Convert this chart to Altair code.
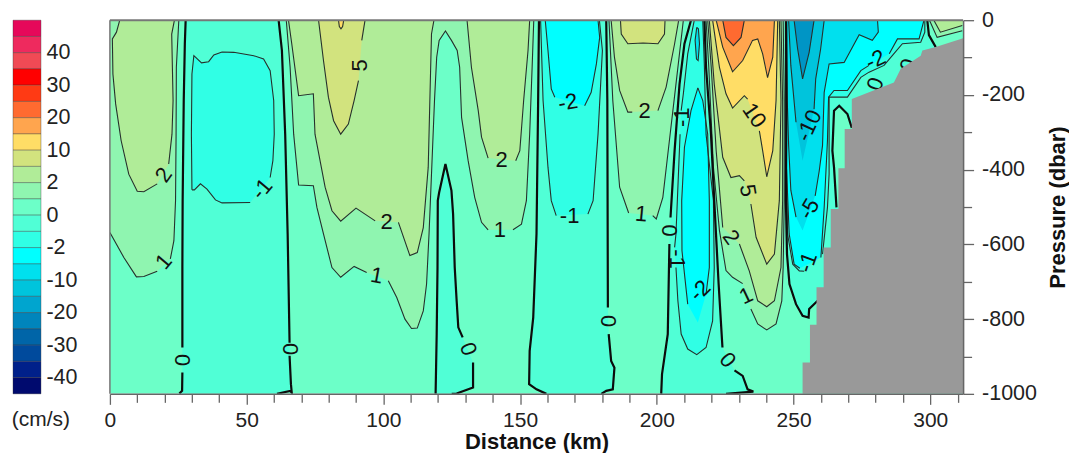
import altair as alt
import pandas as pd

FONT = "Liberation Sans"

# colour bar, top to bottom
BAND_COLORS = ["#E6085A", "#EE2A5E", "#F04A55", "#FF0000", "#FF3A14", "#FF6A30", "#FFA54E", "#FFDD66",
               "#D2E37E", "#B0EC98", "#8FF5B0", "#6CFFC8", "#50FFD6", "#30FFE5", "#00FFFF", "#00E0EE",
               "#00C4DC", "#00A5CF", "#0085BC", "#0065A8", "#004A9C", "#00208A", "#000A6E"]
BAR_TICKS = {2: "40", 4: "30", 6: "20", 8: "10", 10: "2", 12: "0", 14: "-2", 16: "-10", 18: "-20", 20: "-30", 22: "-40"}

C_BG, C_P1, C_P2, C_P5, C_P10, C_P15, C_P20 = "#6CFFC8", "#8FF5B0", "#B0EC98", "#D2E37E", "#FFDD66", "#FFA54E", "#FF6A30"
C_N0, C_N1, C_N2, C_N5, C_N10, C_N15 = "#50FFD6", "#30FFE5", "#00FFFF", "#00E0EE", "#00C4DC", "#0095C5"

def hidden(*pts):
    return ("hidden", list(pts))

# each contour: parts of (km, dbar); a part that is hidden fills but is not stroked
BG = [hidden((0, 0), (312, 0), (312, 1000), (0, 1000))]

A1 = [[(0, 568), (5.1, 635), (9.7, 687), (12.4, 686), (17.3, 672)],
      [(22.1, 639), (23.4, 590), (24.0, 483), (24.2, 305), (24.3, 126), (25.2, 0)], hidden((0, 0))]
A2 = [[(3.6, 0), (2.4, 32), (0.9, 50), (1.1, 144), (2.1, 224), (4.1, 322), (6.9, 412), (10, 458), (12.4, 459), (17.3, 438)],
      [(21.5, 385), (22.7, 305), (23.1, 215), (22.6, 37), (23.6, 0)]]
CE1 = [[(64.5, 0), (65.9, 126), (67.2, 305), (69, 441), (74.4, 443), (75.7, 501), (78.1, 572), (81.2, 662), (84.4, 688),
        (89.3, 659), (93.9, 675)],
       [(101.8, 697), (104.9, 742), (107.9, 800), (110.3, 825), (112.4, 824), (114.6, 778), (115.8, 706), (116.7, 572),
        (117.7, 394), (118.7, 215), (119.5, 99), (120.4, 54), (122.7, 29), (124.9, 54), (127, 81), (127.9, 126), (128.6, 260),
        (131, 376), (133.4, 474), (135.9, 541), (138.3, 561)],
       [(147.4, 561), (150.5, 546), (152.3, 483), (153.5, 305), (154.4, 126), (155, 0)]]
C2 = [[(65.3, 0), (66.5, 63), (69, 202), (74.4, 197), (75, 305), (78.7, 447), (81.2, 510), (84.4, 538), (90, 503), (97, 537)],
      [(105.5, 541), (109.7, 630), (112.4, 622), (114.6, 555), (116.4, 394), (117, 215), (117.6, 37), (118.5, 0)]]
C5 = [[(76.3, 0), (78.1, 108), (79.9, 206), (81.8, 269), (84.4, 305), (87.2, 278), (89.3, 215), (90.9, 162)],
      [(92.1, 54), (93.3, 0)]]
C10 = [[(83.6, 0), (83.9, 17), (84.5, 23), (85.1, 17), (85.5, 0)]]
E2 = [[(130.6, 0), (132.2, 126), (134.7, 242), (135.9, 313), (138.3, 369)],
      [(148.4, 376), (149.9, 349), (151.3, 215), (152.9, 81), (153.5, 0)]]
B0L = [(27.7, 0), (27.4, 63), (27, 215), (26.6, 483), (26.5, 662), (26.5, 876)]
B0 = [B0L, [(26.5, 943), (26.4, 992), (25.4, 999)], hidden((25.4, 1000), (61.1, 1000)),
      [(61.1, 1000), (65.9, 992), (66.5, 997), (66.2, 974), (65.7, 898)], [(65.7, 863), (65, 572), (64.1, 305), (62.9, 81), (61.7, 0)]]
B1 = [[(30, 454), (29.8, 305), (30, 144), (30.7, 95), (33.5, 114), (36.1, 111), (38, 93), (41, 85), (45.3, 86), (52.6, 95),
       (56.2, 104), (58.6, 135), (59.9, 215), (60.1, 305), (59.6, 376), (58.6, 421)],
      [(51.3, 488), (41, 489), (38.6, 481), (35.5, 452), (33.1, 438), (30.9, 454), (30, 454)]]
D0 = [[(119.1, 1000), (119.5, 840), (119.8, 662), (119.9, 483), (120.4, 461), (122.7, 385), (124.9, 456), (125.5, 519),
       (126.1, 662), (126.8, 751), (127.4, 822), (129, 849)],
      [(132.8, 916), (132.8, 983), (126.8, 999), (125, 1000)]]
F0 = [[(156.9, 0), (156.6, 215), (156, 572), (154.8, 796), (153.5, 885), (153.3, 974), (156, 988), (159.6, 1000)],
      hidden((179.7, 1000)),
      [(179.7, 1000), (181.5, 992), (183.9, 988), (184.5, 930), (183.3, 912), (182.4, 840)],
      [(182.1, 769), (181.9, 215), (181.5, 0)]]
F1 = [[(157.5, 0), (158.4, 215), (160.2, 394), (161.4, 483), (163.2, 523)],
      [(174.8, 519), (176.7, 483), (178.5, 305), (180.1, 81), (179, 0)]]
F2 = [[(159.2, 0), (160.2, 81), (161.4, 184), (162.7, 206)],
      [(173.6, 229), (176, 193), (177.9, 117), (179.1, 46), (178.5, 0)]]
G1 = [[(182.5, 0), (183.9, 215), (186.4, 447), (189.7, 516)],
      [(198.5, 523), (199.8, 532), (202.2, 474), (204.6, 322), (207, 171), (209.7, 0)]]
G2 = [[(183.3, 0), (184.5, 99), (186.4, 188), (189.4, 246), (191, 246)],
      [(200.4, 242), (203.4, 179), (206.5, 63), (208, 0)]]
G5 = [[(186.7, 0), (187, 37), (189.4, 63), (195, 61), (200.4, 63), (202.8, 37), (203, 0)]]
H0 = [[(201.6, 1000), (201.9, 947), (204, 840), (204.6, 599)],
      [(205, 528), (206.5, 349), (208.3, 171), (210.1, 63), (212.5, 0)],
      hidden((217.4, 0)),
      [(217.4, 0), (218, 126), (219.8, 305), (221, 483), (222.6, 706), (224, 876)],
      [(228.4, 937), (231.4, 952), (233.2, 988), (235.3, 994), (225.3, 1000)]]
H1 = [[(213.7, 0), (211.3, 90), (209.7, 197), (208.9, 242)],
      [(208.5, 305), (207, 572), (206.5, 608)],
      [(207, 662), (207.7, 751), (208.9, 840), (211.3, 880), (214.6, 895), (218, 876), (220.4, 805), (221, 662), (220.7, 483),
       (218, 305), (217.4, 126), (216.8, 0)]]
H2 = [[(215, 181), (212.5, 242), (210.1, 340), (209.1, 483), (209.2, 617), (211.3, 760)],
      hidden((215, 809)),
      [(218, 733), (219.2, 662), (219.2, 483), (218.6, 305), (216.8, 215), (215, 181)]]
H2T = [[(214.6, 19), (214, 54), (214.5, 104), (215.1, 108), (215.6, 63), (215.2, 23), (214.6, 19)]]
I1 = [[(218, 0), (219, 126), (220.7, 394), (222.9, 563), (225.3, 670), (227.7, 688), (231.4, 705)],
      [(234.4, 773), (236.9, 813), (240.2, 829), (243.6, 813), (245.7, 751), (246.2, 662), (246.6, 483), (246.6, 215), (246.2, 0)]]
I2 = [[(218.6, 0), (219.9, 126), (221.7, 349), (224.1, 555)],
      [(230.2, 599), (233.8, 671), (236.9, 751), (240.2, 767), (243, 751), (245.4, 662), (246, 483), (246, 215), (245.4, 0)]]
I5 = [[(219.2, 0), (221, 171), (224.1, 367), (227.1, 421), (230.2, 416), (232, 430)],
      [(234.4, 492), (236.3, 581), (240.2, 653), (243, 626), (244.8, 483), (245.4, 215), (244.8, 0)]]
I10 = [[(220.4, 0), (222.9, 126), (225.3, 197), (227.7, 235), (232, 202), (233.2, 211)],
       [(237.5, 296), (238.7, 349), (240.2, 419), (242.4, 349), (243.6, 215), (244.2, 0)]]
I15 = [[(221.7, 0), (224.1, 72), (227.7, 138), (231.4, 108), (235, 54), (236.9, 50), (238.7, 90), (240.5, 154), (242.4, 99), (243, 0)]]
I20 = [[(224.1, 0), (225.3, 46), (228, 68), (230.8, 46), (232, 0)]]
J0 = [[(247.3, 0), (247.4, 215), (247.2, 483), (247.6, 626), (248.5, 706), (250.9, 760), (253.3, 791), (255.5, 796), (255.7, 773), (258.8, 751)],
      hidden((262, 751), (290, 300)),
      [(302, 72), (299.5, 40), (298.9, 0)]]
J_POCKET = [[(271.3, 288), (269.7, 251), (266.7, 229), (264.8, 242), (264.2, 349), (264.8, 394), (265.7, 501)],
            hidden((275, 501), (275, 288))]
J1 = [[(247, 0), (247.2, 305), (247.8, 572), (249.7, 653), (252.1, 671), (253.9, 672)],
      [(260.6, 626), (262.4, 501), (263, 412), (263, 206), (269.7, 206), (274.6, 153), (277.6, 139), (283.1, 121), (286.1, 95),
       (289.8, 63), (296.5, 59), (298, 32), (298, 0)]]
J2 = [[(247.2, 0), (247.4, 394), (248.4, 572), (250.2, 653), (252.3, 664)],
      [(260, 635), (261.2, 501), (262.4, 322), (262.8, 206), (264.8, 188), (269.7, 188), (274.6, 135), (277.6, 121)],
      [(285, 90), (288, 50), (295.9, 50), (297.7, 0)]]
J5 = [[(247.4, 0), (247.7, 215), (248.2, 335), (249, 455), (250.9, 527)],
      hidden((253.3, 563)),
      [(257.9, 470), (259.4, 403), (260.6, 335), (261.2, 193), (263, 117), (268.5, 113), (274, 39), (278.8, 54), (281, 32), (280.7, 0)]]
J10 = [[(248.2, 0), (249, 121), (250.9, 273)],
       hidden((253.3, 376)),
       [(257.5, 238), (258.1, 157), (259.9, 77), (261.2, 0)]]
J15 = [[(250.2, 0), (251.5, 77), (253.3, 157), (255.7, 86), (257.5, 0)]]
K1 = [[(299.7, 0), (302.5, 46), (311.7, 28)], hidden((312, 0))]
K2 = [[(301.3, 0), (303.7, 32), (311.7, 14)], hidden((312, 0))]
TERRAIN = [hidden((253.3, 1000), (253.3, 916), (256, 916), (256, 815), (258.4, 815), (258.4, 715), (261, 715), (261, 608),
                  (263.6, 608), (263.6, 505), (266.4, 505), (266.4, 396), (268.7, 396), (268.7, 291), (271.3, 291), (271.3, 211),
                  (286.7, 167), (289.2, 130), (296.5, 95), (297.1, 81), (302, 72), (312, 48), (312, 1000))]

# (fill colour, contour, stroke width)
CONTOURS = [(C_BG, BG, 0),
            (C_P1, A1, 1), (C_P2, A2, 1), (C_P1, CE1, 1), (C_P2, C2, 1), (C_P2, E2, 1), (C_P5, C5, 1), (C_P10, C10, 1),
            (C_P1, G1, 1), (C_P2, G2, 1), (C_P5, G5, 1),
            (C_P1, I1, 1), (C_P2, I2, 1), (C_P5, I5, 1), (C_P10, I10, 1), (C_P15, I15, 1), (C_P20, I20, 1),
            (C_P1, K1, 1), (C_P2, K2, 1),
            (C_N0, B0, 2), (C_N1, B1, 1), (C_N0, D0, 2), (C_N0, F0, 2), (C_N1, F1, 1), (C_N2, F2, 1),
            (C_N0, H0, 2), (C_N1, H1, 1), (C_N2, H2, 1), (C_N5, H2T, 1),
            (C_N0, J0, 2), (C_BG, J_POCKET, 2), (C_N1, J1, 1), (C_N2, J2, 1), (C_N5, J5, 1), (C_N10, J10, 1), (C_N15, J15, 1)]

LABEL_KM = [19.7, 19.7, 26.4, 65.7, 55.6, 91.5, 101.2, 97.6, 143.2, 142.6, 131, 167.5, 168.1, 195.5, 194.3, 182.1, 204.6,
            209.1, 207.3, 215.8, 235.6, 233.2, 227.1, 232.6, 225.9, 255.7, 255.7, 255.1, 280, 280, 292]
LABEL_DBAR = [414, 646, 910, 880, 452, 121, 541, 684, 373, 561, 880, 220, 523, 242, 519, 805, 563,
              260, 639, 724, 255, 456, 581, 738, 910, 282, 505, 648, 106, 171, 121]
LABEL_TEXT = ["2", "1", "0", "0", "-1", "5", "2", "1", "2", "1", "0", "-2", "-1", "2", "1", "0", "0",
              "-1", "-1", "-2", "10", "5", "2", "1", "0", "-10", "-5", "-1", "-2", "0", "0"]
LABEL_ANGLE = [305, 310, 90, 90, 310, 270, 0, 10, 0, 0, 70, 350, 0, 0, 5, 90, 90,
               270, 90, 315, 55, 80, 55, 335, 50, 295, 300, 290, 335, 290, 290]

X_TICKS = list(range(0, 320, 10))
Y_TICKS = list(range(-1000, 100, 100))

x_scale = alt.Scale(domain=[0, 312], nice=False, zero=False)
y_scale = alt.Scale(domain=[-1000, 0], nice=False, zero=False)
axis_x = alt.Axis(values=X_TICKS, labelExpr="datum.value % 50 === 0 ? '' + datum.value : ''", title="Distance (km)",
                  titleFont=FONT, titleFontSize=22, titleFontWeight="bold", titleColor="#111", titlePadding=1,
                  labelFont=FONT, labelFontSize=21, labelColor="#222", labelPadding=5, labelOverlap=False, labelFlush=False,
                  tickSize={"condition": {"test": "datum.value % 50 === 0", "value": 10.5}, "value": 8.5},
                  tickColor="#666", tickWidth=1.3, domainColor="#666", domainWidth=1.5, grid=False, zindex=1)
axis_y = alt.Axis(orient="right", values=Y_TICKS, labelExpr="datum.value % 200 === 0 ? '' + datum.value : ''", title="Pressure (dbar)",
                  titleFont=FONT, titleFontSize=22, titleFontWeight="bold", titleColor="#111", titlePadding=33, titleAngle=270,
                  labelFont=FONT, labelFontSize=21.5, labelColor="#222", labelPadding=8, labelOverlap=False, labelFlush=False,
                  tickSize={"condition": {"test": "datum.value % 200 === 0", "value": 10.5}, "value": 8.5},
                  tickColor="#666", tickWidth=1.3, domainColor="#666", domainWidth=1.5, grid=False, zindex=1)
X = alt.X("km:Q", scale=x_scale, axis=axis_x)
Y = alt.Y("p:Q", scale=y_scale, axis=axis_y)

def parts_of(c):
    out = []
    for part in c:
        if isinstance(part, tuple):
            out.append((False, part[1]))
        else:
            out.append((True, part))
    return out

def poly_table(c):
    rows, i = [], 0
    for _, pts in parts_of(c):
        for km, d in pts:
            rows.append({"km": km, "p": -d, "i": i})
            i += 1
    return pd.DataFrame(rows)

def stroke_table(contours):
    rows, seg = [], 0
    for _, c, w in contours:
        for visible, pts in parts_of(c):
            if visible:
                for i, (km, d) in enumerate(pts):
                    rows.append({"km": km, "p": -d, "i": i, "seg": seg})
                seg += 1
    return pd.DataFrame(rows)

layers = []
for color, c, w in CONTOURS:
    layers.append(alt.Chart(poly_table(c)).mark_line(fill=color, strokeWidth=0, clip=True).encode(x=X, y=Y, order=alt.Order("i:Q")))

thin = [t for t in CONTOURS if t[2] == 1]
thick = [t for t in CONTOURS if t[2] == 2]
for group, width, col in ((thin, 1.1, "#26302c"), (thick, 2.2, "#0c0c0c")):
    layers.append(alt.Chart(stroke_table(group)).mark_line(strokeWidth=width, color=col, clip=True).encode(
        x=X, y=Y, detail="seg:N", order=alt.Order("i:Q")))

labels = pd.DataFrame({"km": LABEL_KM, "p": [-d for d in LABEL_DBAR], "t": LABEL_TEXT, "a": LABEL_ANGLE})
layers.append(alt.Chart(labels).mark_text(font=FONT, fontSize=22, color="#111", align="center", baseline="middle", clip=True).encode(
    x=X, y=Y, text="t:N", angle=alt.Angle("a:Q", scale=None)))

layers.append(alt.Chart(poly_table(TERRAIN)).mark_line(fill="#999999", strokeWidth=0, clip=True).encode(x=X, y=Y, order=alt.Order("i:Q")))

frame_top = alt.Chart(pd.DataFrame({"p": [0]})).mark_rule(color="#777", strokeWidth=2).encode(y=Y)
frame_left = alt.Chart(pd.DataFrame({"km": [0]})).mark_rule(color="#777", strokeWidth=1.5).encode(x=X)
layers += [frame_top, frame_left]

main = alt.layer(*layers).properties(width=854, height=374, view=alt.ViewBackground(stroke=None))

# colour bar
bar = pd.DataFrame({"lo": list(range(len(BAND_COLORS))), "hi": list(range(1, len(BAND_COLORS) + 1)), "c": BAND_COLORS})
label_expr = "{" + ",".join(f"'{k}':'{v}'" for k, v in BAR_TICKS.items()) + "}[datum.value]"
colorbar = alt.Chart(bar).mark_rect(stroke="#333", strokeOpacity=0.45, strokeWidth=0.8).encode(
    y=alt.Y("lo:Q", scale=alt.Scale(domain=[0, len(BAND_COLORS)], reverse=True, nice=False, zero=False),
            axis=alt.Axis(orient="right", values=list(BAR_TICKS), labelExpr=label_expr, title=None, domain=False, ticks=False, grid=False,
                          labelFont=FONT, labelFontSize=21.5, labelColor="#222", labelPadding=5, labelAlign="left", labelOverlap=False, labelFlush=False)),
    y2="hi:Q",
    color=alt.Color("c:N", scale=None),
).properties(width=28, height=374, view=alt.ViewBackground(stroke=None))

unit = alt.Chart(pd.DataFrame({"t": ["(cm/s)"]})).mark_text(font=FONT, fontSize=21, color="#222", align="center", baseline="middle").encode(
    text="t:N", x=alt.value(28), y=alt.value(400))

chart = alt.hconcat(alt.layer(colorbar, unit), main, spacing=26).properties(
    padding={"left": 3, "top": 1, "right": 0, "bottom": 0}
)
chart.save("out.html", embed_options={"renderer": "svg", "actions": False})
